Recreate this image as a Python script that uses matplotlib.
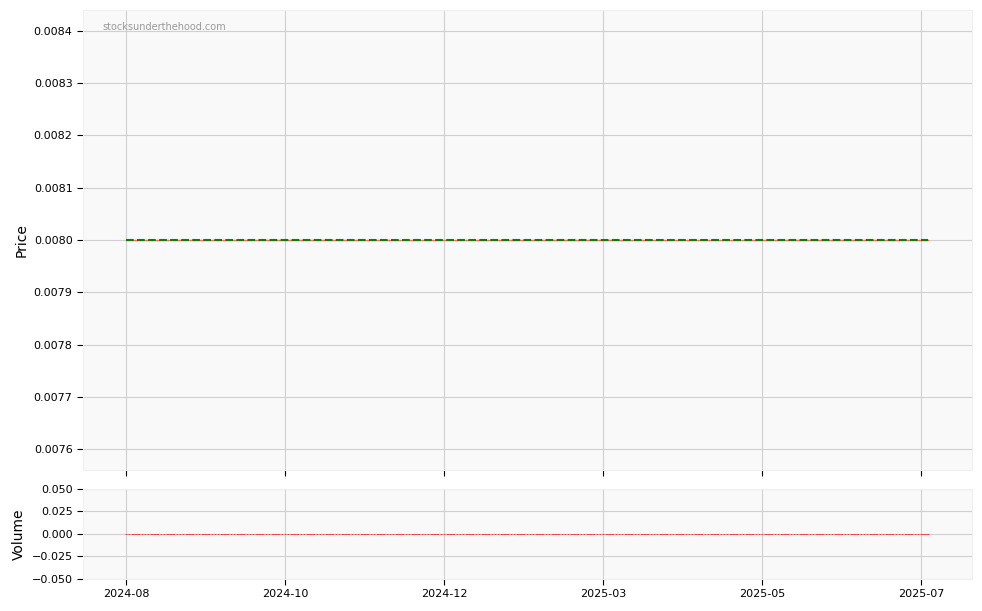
import numpy as np
import pandas as pd
import matplotlib
matplotlib.use("Agg")
import matplotlib.pyplot as plt

# daily closes (flat) and moving average, volume all zero
n_days = 253
close = [0.008] * n_days
sma = [0.008] * n_days
volume = [0.0] * n_days
tick_pos = [0, 50, 100, 150, 200, 250]
tick_labels = ["2024-08", "2024-10", "2024-12", "2025-03", "2025-05", "2025-07"]

x = np.arange(n_days)
bg = '#f9f9f9'

fig, (ax1, ax2) = plt.subplots(2, 1, figsize=(9.82, 6.11), dpi=100, sharex=True,
                               gridspec_kw={'height_ratios': [460, 90]})
fig.subplots_adjust(left=0.0845, right=0.99, top=0.9836, bottom=0.0524, hspace=0.069)

for ax in (ax1, ax2):
    ax.set_facecolor(bg)
    ax.grid(True, color='#d0d0d0', linewidth=0.8)
    ax.set_axisbelow(True)
    for s in ax.spines.values():
        s.set_color('#f0f0f0')
    ax.tick_params(labelsize=8, length=4, color='black')

ax1.plot(x, close, color='#ff6666', linewidth=1.0)
ax1.plot(x, sma, color='#1a7a00', linewidth=1.5, linestyle='--')
ax1.set_ylabel('Price', fontsize=10)
ax1.text(0.022, 0.975, 'stocksunderthehood.com', transform=ax1.transAxes,
         fontsize=7, color='#999999', va='top', ha='left')
ax1.tick_params(axis='x', labelbottom=False)

ax2.bar(x, volume, width=0.8, color='red', edgecolor='red', linewidth=0.6, alpha=0.8)
ax2.set_ylim(-0.05, 0.05)
ax2.set_yticks([-0.05, -0.025, 0, 0.025, 0.05])
ax2.set_ylabel('Volume', fontsize=10)
ax2.set_xticks(tick_pos)
ax2.set_xticklabels(tick_labels)
ax2.set_xlim(-13.5, 266)

plt.savefig('out.png', dpi=100)
